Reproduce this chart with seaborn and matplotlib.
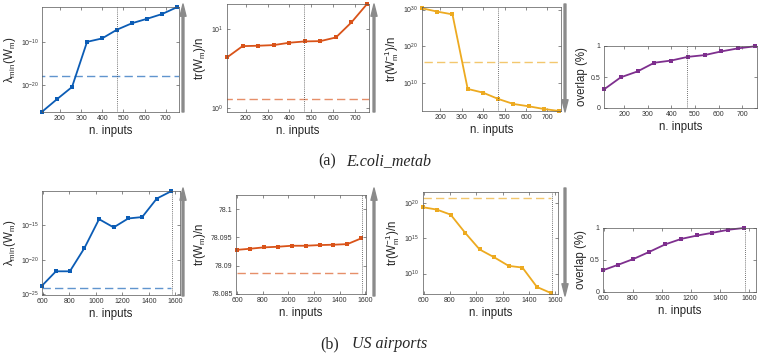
import matplotlib
matplotlib.use("Agg")
import matplotlib.pyplot as plt
import matplotlib.ticker as mticker
import numpy as np
import pandas as pd
import seaborn as sns

sns.set_theme(style="ticks")
plt.rcParams["font.family"] = ["Liberation Sans", "DejaVu Sans"]
plt.rcParams["mathtext.fontset"] = "custom"
plt.rcParams["mathtext.rm"] = "Liberation Sans"
plt.rcParams["mathtext.it"] = "Liberation Sans:italic"
plt.rcParams["mathtext.default"] = "regular"

# ---- (a) E.coli_metab ----
inputs_a = [115, 186, 257, 328, 399, 470, 541, 612, 683, 754]
lam_min_a = [4.5e-27, 4.0e-24, 2.8e-21, 1.0e-10, 6.3e-10, 7.2e-8, 2.3e-6, 2.5e-5, 3.2e-4, 1.3e-2]
lam_ref_a = 1e-18
tr_a = [4.38, 6.11, 6.18, 6.30, 6.75, 7.02, 7.08, 7.89, 12.3, 21.1]
tr_ref_a = 1.30
trinv_a = [2.3e30, 2.8e29, 5.0e28, 2.8e8, 2.8e7, 5.4e5, 2.3e4, 5.4e3, 1.0e3, 2.8e2]
trinv_ref_a = 5e15
overlap_a = [0.30, 0.495, 0.59, 0.73, 0.765, 0.825, 0.853, 0.913, 0.962, 0.995]
cut_a = 468

# ---- (b) US airports ----
inputs_b = [595, 700, 805, 915, 1025, 1135, 1245, 1350, 1460, 1567]
lam_min_b = [1.6e-24, 2.0e-22, 2.0e-22, 5.0e-19, 7.9e-15, 5.0e-16, 1.0e-14, 1.6e-14, 7.9e-12, 8.9e-11]
lam_ref_b = 7.9e-25
tr_b = [78.0928, 78.0930, 78.09324, 78.09335, 78.09353, 78.09353, 78.09365, 78.09371, 78.09382, 78.09482]
tr_ref_b = 78.08865
trinv_b = [2.7e19, 1.26e19, 2.4e18, 6.3e15, 2.7e13, 2.1e12, 1.26e11, 7.2e10, 1.26e8, 1.7e7]
trinv_ref_b = 5.1e20
overlap_b = [0.34, 0.426, 0.516, 0.628, 0.745, 0.83, 0.883, 0.925, 0.973, 1.0]
cut_b = 1572

colors = ["#0B5CB5", "#D95319", "#EDAA20", "#7E2F8E"]
ylabels = [r"$\lambda_{min}(W_m)$", r"tr(W$_m$)/n", r"tr(W$_m^{-1}$)/n", "overlap (%)"]

W, H = 760, 358


def box(l, r, t, b):
    return [l / W, 1 - b / H, (r - l) / W, (b - t) / H]


fig = plt.figure(figsize=(7.6, 3.58), dpi=100)

top_boxes = [(42, 179, 7, 112), (227, 369, 4, 112), (422, 561, 7, 111), (604, 757, 46, 108)]
bot_boxes = [(42, 180, 191, 295), (236, 366, 195, 294), (423, 558, 192, 294), (603, 756, 228, 292)]


def style(ax):
    for s in ax.spines.values():
        s.set_linewidth(0.5)
        s.set_color("#555555")
    ax.tick_params(direction="in", length=2, width=0.4, labelsize=5, pad=2.5,
                   top=True, right=True, colors="#333333", which="both")
    ax.minorticks_off()
    ax.set_xlabel("n. inputs", fontsize=8.3, labelpad=1.5)


def panel(ax, x, y, color, ref, cut, ylabel, log=True, ref_full=True):
    df = pd.DataFrame({"n": x, "v": y})
    sns.lineplot(data=df, x="n", y="v", ax=ax, color=color, marker="s",
                 markersize=3.2, markeredgewidth=0, linewidth=1.3, clip_on=False)
    if log:
        ax.set_yscale("log")
    if ref is not None:
        x0 = -1e4 if ref_full else x[0]
        x1 = 1e4 if ref_full else x[-1]
        ax.hlines(ref, x0, x1, color=color, alpha=0.65, linewidth=1.0,
                  linestyles=(0, (6, 3)))
    ax.axvline(cut, color="#444444", linestyle=(0, (1, 1.5)), linewidth=0.6)
    ax.set_ylabel(ylabel, fontsize=8.3, labelpad=2)
    style(ax)


# top row
axs = [fig.add_axes(box(*b)) for b in top_boxes]
panel(axs[0], inputs_a, lam_min_a, colors[0], lam_ref_a, cut_a, ylabels[0])
axs[0].set_ylim(10**-26.4, 10**-1.85)
axs[0].set_yticks([1e-20, 1e-10])
panel(axs[1], inputs_a, tr_a, colors[1], tr_ref_a, cut_a, ylabels[1])
axs[1].set_ylim(0.88, 21.1)
axs[1].set_yticks([1, 10])
panel(axs[2], inputs_a, trinv_a, colors[2], trinv_ref_a, cut_a, ylabels[2])
axs[2].set_ylim(10**2.45, 10**30.7)
axs[2].set_yticks([1e10, 1e20, 1e30])
panel(axs[3], inputs_a, overlap_a, colors[3], None, cut_a, ylabels[3], log=False)
axs[3].set_ylim(0, 1)
axs[3].set_yticks([0, 0.5, 1])
axs[3].yaxis.set_major_formatter(mticker.FuncFormatter(lambda v, p: f"{v:g}"))
for ax in axs:
    ax.set_xlim(115, 763)
    ax.set_xticks([200, 300, 400, 500, 600, 700])
    ax.minorticks_off()

# bottom row
bxs = [fig.add_axes(box(*b)) for b in bot_boxes]
panel(bxs[0], inputs_b, lam_min_b, colors[0], lam_ref_b, cut_b, ylabels[0], ref_full=False)
bxs[0].set_ylim(10**-25.15, 1e-10)
bxs[0].set_yticks([1e-25, 1e-20, 1e-15])
panel(bxs[1], inputs_b, tr_b, colors[1], tr_ref_b, cut_b, ylabels[1], log=False, ref_full=False)
bxs[1].set_ylim(78.085, 78.1025)
bxs[1].set_yticks([78.085, 78.09, 78.095, 78.1])
bxs[1].yaxis.set_major_formatter(mticker.FuncFormatter(lambda v, p: f"{v:g}"))
panel(bxs[2], inputs_b, trinv_b, colors[2], trinv_ref_b, cut_b, ylabels[2], ref_full=False)
bxs[2].set_ylim(10**7.1, 10**21.6)
bxs[2].set_yticks([1e10, 1e15, 1e20])
panel(bxs[3], inputs_b, overlap_b, colors[3], None, cut_b, ylabels[3], log=False)
bxs[3].set_ylim(0, 1)
bxs[3].set_yticks([0, 0.5, 1])
bxs[3].yaxis.set_major_formatter(mticker.FuncFormatter(lambda v, p: f"{v:g}"))
for ax, xl in zip(bxs, [(595, 1635), (590, 1606), (595, 1620), (595, 1650)]):
    ax.set_xlim(*xl)
    ax.set_xticks([600, 800, 1000, 1200, 1400, 1600])
    ax.minorticks_off()

# thin gray arrows between panels (figure pixels, origin bottom-left)
arrow_kw = dict(arrowstyle="simple,head_length=1.1,head_width=0.55,tail_width=0.17",
                color="#8a8a8a", mutation_scale=8, shrinkA=0, shrinkB=0)
for (top, bot) in [(4, 112), (188, 296)]:
    for xpix, up in [(183, True), (374, True), (565, False)]:
        y_top, y_bot = H - top, H - bot
        start, end = ((xpix, y_bot), (xpix, y_top)) if up else ((xpix, y_top), (xpix, y_bot))
        fig.patches.append(matplotlib.patches.FancyArrowPatch(
            start, end, transform=None, **arrow_kw))

# captions
cap = dict(fontsize=11.5, family=["Liberation Serif", "DejaVu Serif"], va="baseline")
fig.text(318 / W, 1 - 165 / H, "(a)", **cap)
fig.text(346 / W, 1 - 165 / H, "E.coli_metab", style="italic", **cap)
fig.text(320 / W, 1 - 348 / H, "(b)", **cap)
fig.text(352 / W, 1 - 348 / H, "US airports", style="italic", **cap)

fig.savefig("out.png", dpi=100)
